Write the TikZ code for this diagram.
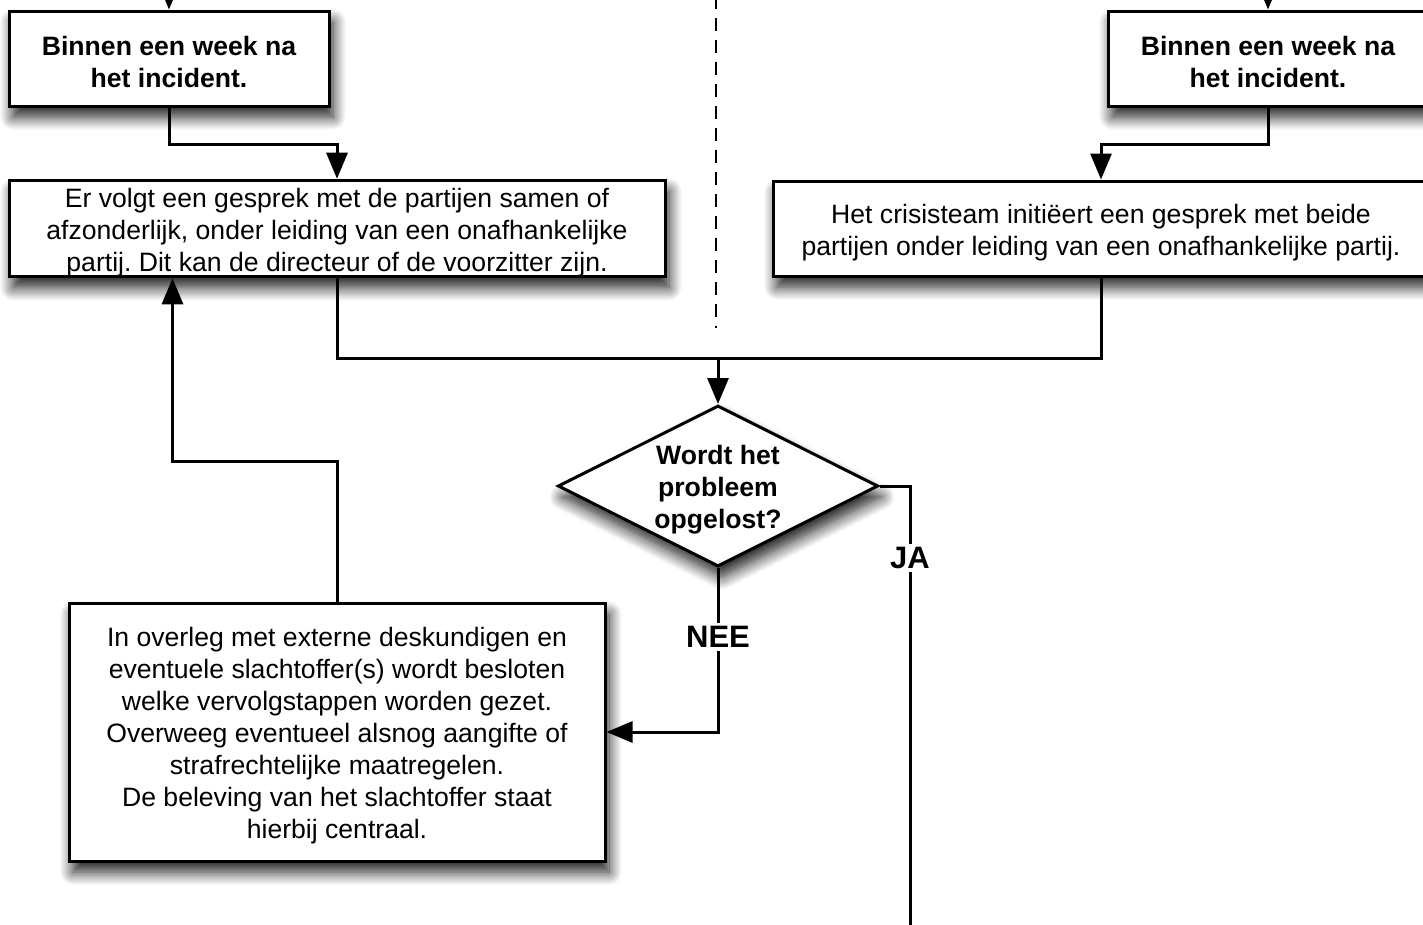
\documentclass[tikz,border=0pt]{standalone}
\usepackage{fontspec}
\setmainfont{Liberation Sans}
\usetikzlibrary{shapes.geometric,arrows.meta,positioning,shadows.blur}
\frenchspacing

% lowers the text a little inside its box
\newcommand{\lead}{\rule{0pt}{27pt}}

\begin{document}
\begin{tikzpicture}[
    x=1pt, y=-1pt,
    plain/.style={font=\fontsize{26.6pt}{32pt}\selectfont},
    bold/.style={font=\bfseries\fontsize{26.6pt}{32pt}\selectfont},
    dropped/.style={blur shadow={shadow xshift=4pt, shadow yshift=-11pt, shadow blur radius=13pt, shadow blur steps=12, shadow opacity=90}},
    block/.style={rectangle, draw, line width=3pt, fill=white, align=center, inner sep=0pt, plain, minimum height=95pt, dropped},
    decision/.style={diamond, draw, line width=3pt, fill=white, align=center, inner sep=0pt, aspect=2, bold,
        minimum width=319pt, minimum height=161pt, dropped},
    line/.style={draw, line width=3pt, -{Triangle[length=26pt,width=21pt]}},
    wire/.style={draw, line width=3pt},
    answer/.style={fill=white, inner sep=3pt, font=\bfseries\fontsize{31pt}{36pt}\selectfont},
    divider/.style={draw, line width=2pt, dash pattern=on 13pt off 9pt}
]
    \useasboundingbox (0,0) rectangle (1423,924);

    % Left branch
    \node [block, bold, minimum width=320pt] (weekL) at (169,58.5) {\lead Binnen een week na\\het incident.};
    \node [block, minimum width=656pt] (talkL) at (337,228.5) {\lead Er volgt een gesprek met de partijen samen of\\afzonderlijk, onder leiding van een onafhankelijke\\partij. Dit kan de directeur of de voorzitter zijn.};

    % Right branch
    \node [block, bold, minimum width=320pt] (weekR) at (1268,58.5) {\lead Binnen een week na\\het incident.};
    \node [block, minimum width=656pt] (talkR) at (1101,228.5) {\lead Het crisisteam initiëert een gesprek met beide\\partijen onder leiding van een onafhankelijke partij.};

    % Decision and follow-up
    \node [decision] (solved) at (718,486) {\lead Wordt het\\probleem\\opgelost?};
    \node [block, minimum width=536pt, minimum height=258pt] (steps) at (337,732) {\lead In overleg met externe deskundigen en\\eventuele slachtoffer(s) wordt besloten\\welke vervolgstappen worden gezet.\\Overweeg eventueel alsnog aangifte of\\strafrechtelijke maatregelen.\\De beleving van het slachtoffer staat\\hierbij centraal.};

    \coordinate (startL) at (169,-4);
    \coordinate (startR) at (1268,-4);
    \coordinate (join) at (718,358);
    \coordinate (jaEnd) at (910,935);
    \coordinate (splitTop) at (716,-4);
    \coordinate (splitBot) at (716,328);

    % Connections
    \path [divider] (splitTop) -- (splitBot);
    \path [line] (startL) -- (weekL);
    \path [line] (startR) -- (weekR);
    \path [line] (weekL.south) -- ++(0,37) -| (talkL.north);
    \path [line] (weekR.south) -- ++(0,37) -| (talkR.north);
    \path [wire] (talkL.south) |- (join);
    \path [wire] (talkR.south) |- (join);
    \path [line] (join) -- (solved.north);
    \path [wire] (solved.east) -| node [answer, pos=0.58] {JA} (jaEnd);
    \path [line] (solved.south) |- node [answer, pos=0.21] {NEE} (steps.east);
    \path [line] (steps.north) -- ++(0,-140) -| ([xshift=165pt]talkL.south west);

\end{tikzpicture}
\end{document}
